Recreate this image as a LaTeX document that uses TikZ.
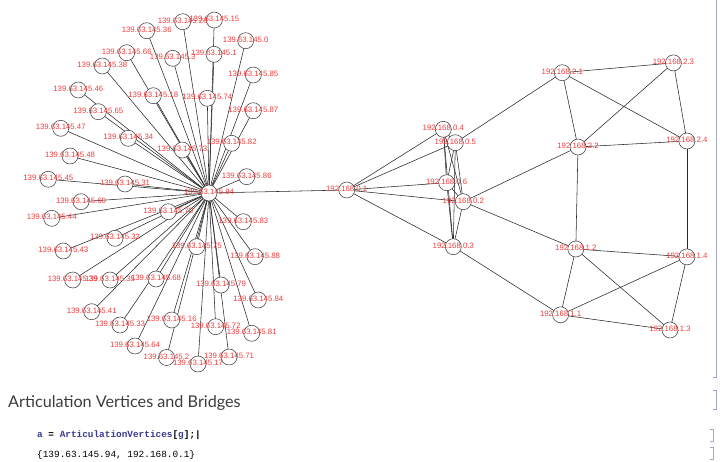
\documentclass[tikz,border=0pt]{standalone}
\usepackage{fontspec}
\setmainfont{Liberation Sans}
\newfontfamily\titlefont{Lato}
\newfontfamily\codefont{Liberation Mono}
\usetikzlibrary{backgrounds}
\definecolor{labred}{HTML}{F03C3C}
\definecolor{brcol}{HTML}{A4A8C8}
\definecolor{codeblue}{HTML}{3A3A8C}
\definecolor{titlegray}{HTML}{3C3C3C}
\begin{document}
\begin{tikzpicture}[x=1pt,y=-1pt]
\tikzset{
  vtx/.style={circle,draw=black!75,fill=white,line width=0.55pt,minimum size=16pt,inner sep=0pt},
  lab/.style={text=labred,font=\fontsize{7.8}{8}\selectfont,inner sep=0pt},
  edge/.style={draw=black!85,line width=0.55pt},
  brk/.style={draw=brcol,line width=0.8pt},
  txt/.style={inner sep=0pt,anchor=base west}
}
\useasboundingbox (0,0) rectangle (720,462);

% hub and leaves
\node[vtx] (h) at (209,193) {};
\foreach \n/\x/\y/\t in {a36/146.7/30.7/36, a28/182.7/21.7/28, a15/214.3/20/15, a66/126.7/52.7/66, a3/172.7/58.3/3, a1/214/54.3/1, a0/245.7/40.7/0, a38/102.3/66/38, a85/253.3/75/85, a46/78.3/90/46, a18/153.3/95.7/18, a74/207.3/98.3/74, a87/253.3/110.7/87, a65/98.3/111.7/65, a73/182.3/150/73, a82/231.7/143.3/82, a47/60.7/128.3/47, a34/128.3/138.3/34, a48/70/156/48, a86/246.7/176.7/86, a45/48.3/179.3/45, a31/125/184/31, a60/81/201.7/60, a70/168.3/211.7/70, a83/243.3/221.7/83, a44/51.7/218.3/44, a32/115/238.3/32, a43/63.3/251/43, a88/255/256.7/88, a75/196.7/246.7/75, a39/72.7/280/39, a35/110/280/35, a68/156/279/68, a79/221/285/79, a84/258.3/300/84, a41/91.7/311.7/41, a16/171.7/320/16, a33/120/325/33, a72/215.7/326.7/72, a81/251.7/333.3/81, a64/135/346/64, a2/166.5/357.5/2, a17/198/364/17, a71/229/357/71}{
  \node[vtx] (\n) at (\x,\y) {};
  \begin{scope}[on background layer]
    \draw[edge] (h.center) -- (\n.center);
  \end{scope}
}

% right part nodes
\foreach \n/\x/\y in {b1/346.7/190, b4/443.3/129.3, b5/455.3/142.7, b6/446.7/182.7, b2/463.3/201.7, b3/453.3/246.7,
  c1/562.3/72.7, c3/673.4/62.9, c2/578/147, c4/686.9/141,
  d2/575.8/249, d4/686.9/256.9, d1/560.6/314.8, d3/670/330}{
  \node[vtx] (\n) at (\x,\y) {};
}

\begin{scope}[on background layer]
  \draw[edge] (h.center) -- (b1.center);
  \foreach \p/\q in {b1/b4, b1/b5, b1/b6, b1/b2, b1/b3, b4/b5, b4/b6, b4/b2, b4/b3, b5/b6, b5/b2, b5/b3, b6/b2, b6/b3, b2/b3,
    b5/c1, b2/c2, b2/d2, b3/d1,
    c1/c3, c1/c2, c1/c4, c3/c2, c3/c4, c2/c4, c2/d2, c4/d4,
    d2/d4, d2/d1, d2/d3, d1/d4, d1/d3, d4/d3}{
    \draw[edge] (\p.center) -- (\q.center);
  }
\end{scope}

% labels
\node[lab] at (209,192) {139.63.145.94};
\foreach \n/\t in {a36/36, a28/28, a15/15, a66/66, a3/3, a1/1, a0/0, a38/38, a85/85, a46/46, a18/18, a74/74, a87/87, a65/65, a73/73, a82/82, a47/47, a34/34, a48/48, a86/86, a45/45, a31/31, a60/60, a70/70, a83/83, a44/44, a32/32, a43/43, a88/88, a75/75, a39/39, a35/35, a68/68, a79/79, a84/84, a41/41, a16/16, a33/33, a72/72, a81/81, a64/64, a2/2, a17/17, a71/71}{
  \node[lab] at ([yshift=1pt]\n.center) {139.63.145.\t};
}
\foreach \n/\t in {b1/0.1, b4/0.4, b5/0.5, b6/0.6, b2/0.2, b3/0.3, c1/2.1, c3/2.3, c2/2.2, c4/2.4, d2/1.2, d4/1.4, d1/1.1, d3/1.3}{
  \node[lab] at ([yshift=1pt]\n.center) {192.168.\t};
}

% notebook text
\node[txt,text=titlegray] (title) at (8,407) {\titlefont\fontsize{16.2}{18}\selectfont Articulation Vertices and Bridges};
\node[txt] (code) at (37,437) {\codefont\bfseries\fontsize{9.4}{10}\selectfont\textcolor{codeblue}{a} = \textcolor{codeblue}{ArticulationVertices}[\textcolor{codeblue}{g}];|};
\node[txt] (out) at (37,457) {\codefont\fontsize{9.4}{10}\selectfont\{139.63.145.94, 192.168.0.1\}};

% cell brackets
\draw[brk] (716,0) -- (716,377) -- (712.5,377);
\draw[brk] (712.5,390) -- (716,390) -- (716,409) -- (712.5,409);
\draw[brk] (710,429) -- (713,429) -- (713,441) -- (710,441);
\draw[brk] (710,447) -- (713,447) -- (713,459) -- (710,459);
\end{tikzpicture}
\end{document}
